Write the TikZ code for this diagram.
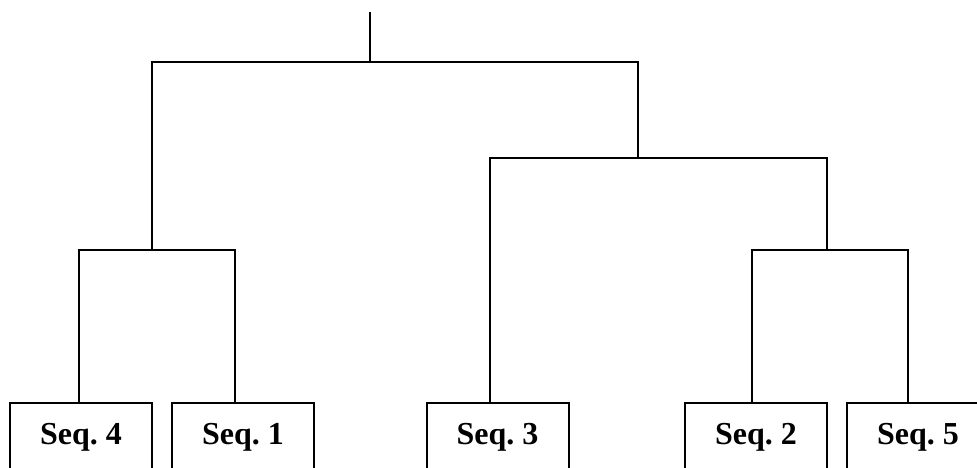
\documentclass[tikz,border=0pt]{standalone}
\usepackage{fontspec}
\setmainfont{Liberation Serif}
\begin{document}
\begin{tikzpicture}[x=1pt,y=-1pt,
  link/.style={line width=2pt},
  seqbox/.style={draw,line width=2pt,anchor=north,minimum width=142pt,
    inner xsep=4pt,inner ysep=20pt,text height=21pt,text depth=20pt,
    font=\fontsize{32}{38}\selectfont\bfseries}]
\useasboundingbox (0,0) rectangle (977,468);
% leaves
\node[seqbox] (n4) at (81,402) {Seq.\ 4};
\node[seqbox] (n1) at (243,402) {Seq.\ 1};
\node[seqbox] (n3) at (497.5,402) {Seq.\ 3};
\node[seqbox] (n2) at (756,402) {Seq.\ 2};
\node[seqbox] (n5) at (918,402) {Seq.\ 5};
% internal junctions
\coordinate (top) at (370,12);
\coordinate (c0) at (370,62);
\coordinate (c41) at (152,250);
\coordinate (c2) at (638,158);
\coordinate (c25) at (827,250);
% branches
\draw[link] ([xshift=-2pt]n4.north) |- (c41) -| ([xshift=-8pt]n1.north);
\draw[link] ([xshift=-4pt]n2.north) |- (c25) -| ([xshift=-10pt]n5.north);
\draw[link] ([xshift=-8pt]n3.north) |- (c2) -| (c25);
\draw[link] (c41) |- (c0) -| (c2);
\draw[link] (c0) -- (top);
\end{tikzpicture}
\end{document}
